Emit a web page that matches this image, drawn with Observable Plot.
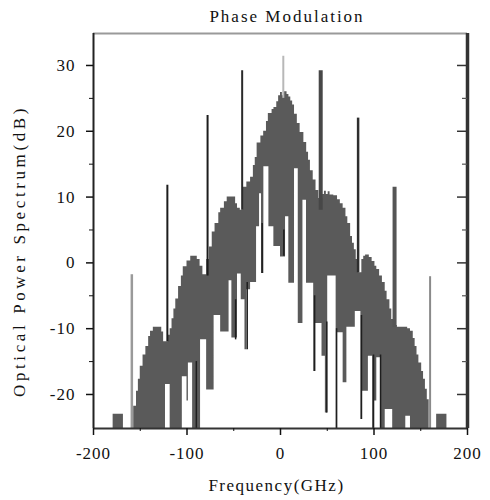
<!DOCTYPE html>
<html>
<head>
<meta charset="utf-8">
<script src="https://cdn.jsdelivr.net/npm/d3@7"></script>
<script src="https://cdn.jsdelivr.net/npm/@observablehq/plot@0.6"></script>
<style>
  body { margin: 0; background: #fff; font-family: "Liberation Serif", "DejaVu Serif", serif; }
  #wrap { width: 490px; height: 500px; position: relative; }
  #title { height: 26px; position: relative; }
  #title span { position: absolute; left: 287px; top: 8px; transform: translateX(-50%); font-size: 17px; letter-spacing: 2px; color: #111; white-space: nowrap; line-height: 1; }
  .ylab text { letter-spacing: 3.6px; }
  .xlab text { letter-spacing: 1.5px; }
  .ticklab text { letter-spacing: 1px; }
</style>
</head>
<body>
<div id="wrap">
  <div id="title"><span>Phase Modulation</span></div>
  <div id="chart"></div>
</div>
<script>
// ---- data ----
const xDomain = [-200, 200];
const yDomain = [-25.17, 34.86];
const xTicks = [-200, -100, 0, 100, 200];
const xMinorTicks = [-150, -50, 50, 150];
const yTicks = [-20, -10, 0, 10, 20, 30];
const yMinorTicks = [-15, -5, 5, 15, 25];
const B = yDomain[0];

// upper envelope of the spectrum (step-after): frequency (GHz), level (dB)
const envFreq = [-179, -168, -157, -154, -152, -150, -147, -144, -141, -139, -136, -127, -125, -120, -118, -116, -114, -112, -109, -106, -104, -100, -96, -89, -86, -83, -79, -76, -73, -70, -66, -64, -60, -57, -48, -46, -43, -40, -36, -32, -29, -27, -25, -21, -18, -15, -13, -9, -7, -4, -2, 0, 2, 4, 7, 9, 11, 13, 15, 18, 21, 25, 28, 30, 32, 35, 38, 41, 45, 47, 49, 51, 53, 57, 61, 64, 67, 70, 72, 75, 77, 79, 81, 84, 87, 89, 91, 95, 98, 101, 103, 106, 109, 112, 114, 117, 119, 122, 125, 136, 139, 142, 144, 146, 148, 151, 153, 155, 157, 159, 167, 178];
const envLevel = [-23.0, B, -21.8, -19.5, -17.7, -15.7, -14.0, -12.7, -11.2, -10.4, -9.8, -10.5, -12.0, -11.0, -10.0, -8.5, -7.0, -5.5, -3.6, -2.0, -0.6, 0.3, 1.0, 0.5, -0.5, -1.8, 0.5, 2.4, 4.7, 6.0, 7.6, 8.3, 9.3, 10.0, 9.0, 8.3, 8.0, 11.5, 12.3, 13.0, 14.8, 16.0, 18.2, 19.3, 20.0, 21.5, 22.7, 23.3, 23.6, 24.5, 25.4, 25.9, 25.4, 26.0, 25.6, 25.2, 24.6, 24.0, 22.6, 21.2, 19.8, 18.3, 16.8, 15.6, 14.0, 12.6, 11.0, 9.8, 10.4, 10.9, 10.4, 10.8, 10.3, 10.2, 9.6, 9.0, 8.3, 7.0, 6.0, 4.0, 3.0, 2.0, 0.5, -1.5, 0.5, 1.0, 1.2, 0.8, 0.2, -0.5, -1.0, -2.0, -3.0, -4.3, -5.6, -7.0, -8.6, -9.5, -9.8, -10.0, -10.4, -11.5, -12.7, -14.0, -15.2, -16.5, -17.7, -19.2, -20.8, B, -23.0, B];

// gaps (empty notches) rising from the floor (step-after): frequency (GHz), gap top (dB)
const gapFreq = [-200, -123, -118, -105, -100, -98.5, -94, -85.5, -79, -71, -64, -55, -52, -46, -42, -38, -36, -32, -25.6, -22.4, -20.3, -17.8, -12.4, -7.1, 0, 5.4, 8.9, 15, 19, 24, 27.8, 35.5, 37.5, 44.4, 48, 50.5, 59.5, 60.5, 67, 71, 80, 86, 87.5, 94, 98.5, 100, 103, 107, 112, 120, 134, 139, 200];
const gapTop = [B, -18.5, B, -17.3, -21.0, -15.2, B, -11.7, -19.3, -8.0, -10.5, -2.7, -11.4, -1.7, -5.6, -13.2, -4.1, -3.0, 5.5, 10.5, -1.6, 14.6, 5.5, 2.5, 0.9, 7.0, -3.1, 14.3, -9.2, 9.5, -3.1, -16.5, -9.2, -14.2, -22.8, -2.0, B, -10.6, -18.2, -9.8, -7.4, -23.8, -19.5, -14.2, B, -21.0, -14.4, B, -22.3, B, -23.3, B, B];

// dark hanging lines inside the spectrum: frequency, lower end, upper end (dB)
const lineFreq = [-90, -48, -35.6, -19.6, 3.6, 36.5, 49.5, 60, 86.6, 99.5, 107];
const lineLow = [B, -11.7, -13.2, -1.6, 1.0, -16.5, -22.8, B, -23.8, B, B];
const lineHigh = [-15, -5.6, -3.0, 6.0, 5.0, -5.0, -9.0, -10.0, -8.0, -14.0, -14.0];

// discrete spectral lines: frequency, top (dB), base (dB)
const spikeFreq = [-159, -121, -78, -41, 3, 43, 83, 122, 160];
const spikeTop = [-1.8, 11.8, 22.4, 29.2, 31.4, 29.2, 22.0, 11.5, -2.1];
const spikeBase = [B, -12.0, -2.0, 8.0, 25.0, 8.0, -1.5, -9.8, B];

// ---- styles (kept apart from the data) ----
const spikeColor = ["#9a9a9a", "#1c1c1c", "#1c1c1c", "#2a2a2a", "#b8b8b8", "#474747", "#2e2e2e", "#555555", "#8a8a8a"];
const spikeWidth = [2.5, 2, 2, 2, 2, 4, 2.5, 4, 2];

const W = 490, H = 474, ML = 93, MR = 23, MT = 7, MB = 72;
const pxPerX = (W - ML - MR) / (xDomain[1] - xDomain[0]);

const env = envFreq.map((f, i) => ({f, v: envLevel[i]}));
const gaps = gapFreq.map((f, i) => ({f, v: gapTop[i]}));
const lines = lineFreq.map((f, i) => ({f, lo: lineLow[i], hi: lineHigh[i]}));
const spikes = spikeFreq.map((f, i) => ({f, top: spikeTop[i], base: spikeBase[i], c: spikeColor[i], w: spikeWidth[i]}));

const chart = Plot.plot({
  width: W, height: H,
  marginLeft: ML, marginRight: MR, marginTop: MT, marginBottom: MB,
  style: {fontFamily: '"Liberation Serif", "DejaVu Serif", serif', color: "#111", background: "#fff"},
  x: {domain: xDomain, axis: null, label: null},
  y: {domain: yDomain, axis: null, label: null},
  color: {type: "identity"},
  marks: [
    Plot.areaY(env, {x: "f", y1: B, y2: "v", curve: "step-after", fill: "#5a5a5a"}),
    Plot.areaY(gaps, {x: "f", y1: B, y2: "v", curve: "step-after", fill: "#ffffff"}),
    Plot.ruleX(lines, {x: "f", y1: "lo", y2: "hi", stroke: "#1e1e1e", strokeWidth: 1.5}),
    Plot.ruleX(spikes, {x: "f", y1: "base", y2: "top", stroke: "c", strokeWidth: "w"}),
    // frame
    Plot.ruleY([yDomain[1]], {stroke: "#9a9a9a", strokeWidth: 2}),
    Plot.ruleY([yDomain[0]], {stroke: "#333", strokeWidth: 2}),
    Plot.ruleX([xDomain[0]], {stroke: "#222", strokeWidth: 2}),
    Plot.ruleX([xDomain[1]], {stroke: "#333", strokeWidth: 3.5}),
    // right-side inward ticks
    Plot.ruleY(yTicks, {y: d => d, x1: xDomain[1] - 10 / pxPerX, x2: xDomain[1], stroke: "#333", strokeWidth: 1.5}),
    Plot.ruleY(yMinorTicks, {y: d => d, x1: xDomain[1] - 5 / pxPerX, x2: xDomain[1], stroke: "#555", strokeWidth: 1.2}),
    // axes
    Plot.axisX({ticks: xTicks, anchor: "bottom", tickSize: 7, tickPadding: 11, fontSize: 17, label: null, tickFormat: d => String(d), strokeWidth: 1.5, className: "ticklab"}),
    Plot.axisX({ticks: xMinorTicks, anchor: "bottom", tickSize: 3, label: null, tickFormat: () => ""}),
    Plot.axisY({ticks: yTicks, anchor: "left", tickSize: 7, tickPadding: 11, fontSize: 17, label: null, tickFormat: d => String(d), strokeWidth: 1.5, className: "ticklab"}),
    Plot.axisY({ticks: yMinorTicks, anchor: "left", tickSize: 4, label: null, tickFormat: () => ""}),
    // axis titles
    Plot.text(["Optical Power Spectrum(dB)"], {frameAnchor: "left", textAnchor: "middle", rotate: -90, dx: -74, dy: 20, fontSize: 17, fill: "#111", className: "ylab"}),
    Plot.text(["Frequency(GHz)"], {frameAnchor: "bottom", dx: -4, dy: 62, fontSize: 17, fill: "#111", className: "xlab"})
  ]
});
document.getElementById("chart").appendChild(chart);
</script>
</body>
</html>
